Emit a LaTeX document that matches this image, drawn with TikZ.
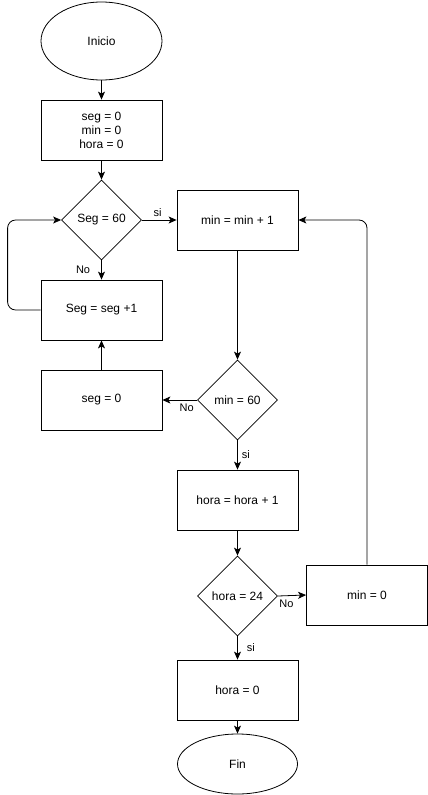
\documentclass[tikz,border=0pt]{standalone}
\usepackage{fontspec}
\setmainfont{Liberation Sans}
\usetikzlibrary{shapes.geometric,arrows.meta}

\begin{document}
\begin{tikzpicture}[x=1pt,y=-1pt,
    font=\fontsize{12}{14}\selectfont,
    term/.style={
      draw=black,
      line width=0.8pt,
      ellipse,
      inner sep=0pt
    }]
\tikzset{box/.style = {shape=rectangle,draw,line width=0.8pt,minimum width=121pt,minimum height=60pt,align=center}}
\tikzset{cond/.style = {shape=diamond,draw,line width=0.8pt,minimum width=80pt,minimum height=80pt,inner sep=0pt}}
\tikzset{edge/.style = {->,> = {Stealth[length=8pt,width=7pt,inset=2pt]},line width=0.8pt}}
\tikzset{lbl/.style = {font=\fontsize{11}{13}\selectfont,inner sep=1pt}}
\useasboundingbox (0,0) rectangle (428,795);
%\draw (0,0) rectangle (428,795);
\node[term,minimum width=121pt,minimum height=78pt] (ini) at (101.5,41) {Inicio};
\node[box] (init) at (101.5,130) {seg = 0\\min = 0\\hora = 0};
\node[cond] (cseg) at (101.5,220) {Seg = 60};
\node[box] (incseg) at (101.5,310) {Seg = seg +1};
\node[box] (rseg) at (101.5,400) {seg = 0};
\node[box] (incmin) at (237.5,220) {min = min + 1};
\node[cond] (cmin) at (237.5,400) {min = 60};
\node[box] (inchora) at (237.5,500) {hora = hora + 1};
\node[cond] (chora) at (237.5,596) {hora = 24};
\node[box] (rmin) at (367,595) {min = 0};
\node[box] (rhora) at (237.5,690) {hora = 0};
\node[term,minimum width=120pt,minimum height=60pt] (fin) at (237.5,764) {Fin};
\draw[edge] (ini) to (init);
\draw[edge] (init) to (cseg);
\draw[edge] (rseg) to (incseg);
\draw[edge] (incmin) to (cmin);
\draw[edge] (inchora) to (chora);
\draw[edge] (rhora) to (fin);
\path[edge]
(cseg) edge node[lbl,above=2pt,pos=0.45] {si} (incmin)
(cseg) edge node[lbl,left=10pt] {No} (incseg)
(cmin.west) edge node[lbl,below=3pt,pos=0.3] {No} (rseg.east)
(cmin) edge node[lbl,right=3pt] {si} (inchora)
(chora.east) edge node[lbl,below=3pt,pos=0.3] {No} (rmin.west)
(chora) edge node[lbl,right=8pt] {si} (rhora);
\draw[edge,rounded corners=8pt] (incseg.west) -- ++(-33,0) |- (cseg.west);
\draw[edge,rounded corners=8pt] (rmin.north) |- (incmin.east);
\end{tikzpicture}
\end{document}
